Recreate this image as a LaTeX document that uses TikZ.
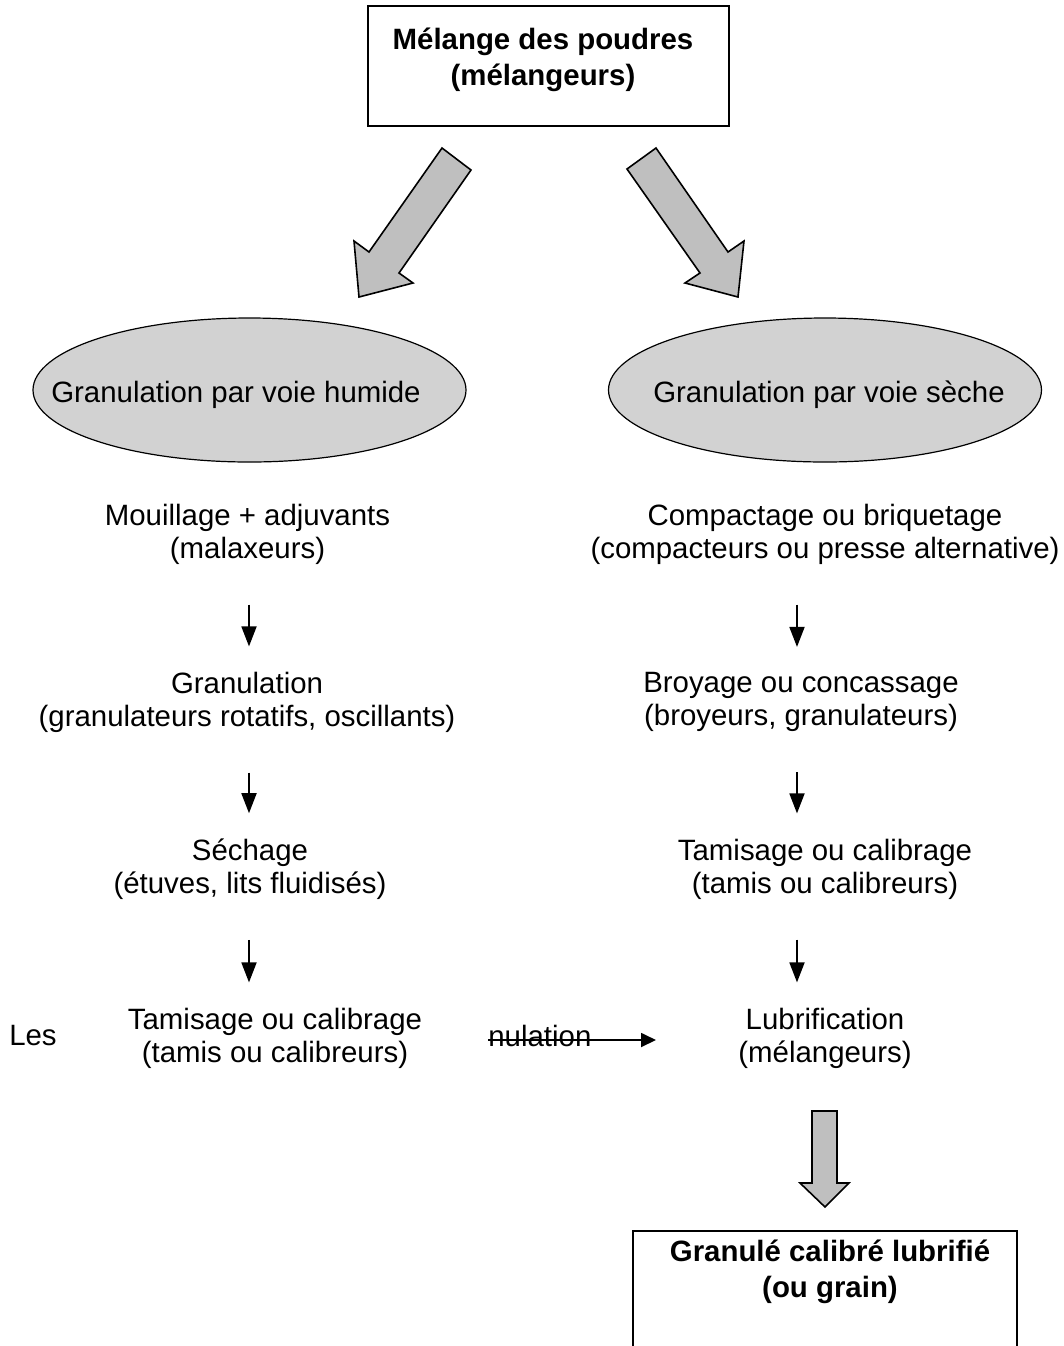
\documentclass[tikz,border=0pt]{standalone}
\usepackage{fontspec}
\setmainfont{Liberation Sans}
\usetikzlibrary{arrows.meta,shapes.geometric}
\tikzset{
  % plain text of a step (two lines)
  steptxt/.style  = {font=\fontsize{14.7}{16.5}\selectfont, align=center, inner sep=0pt},
  % bold text of the start and end boxes
  boxtxt/.style   = {font=\bfseries\fontsize{14.7}{18}\selectfont, align=center, inner sep=0pt},
  % framed box, no fill
  boxed/.style    = {rectangle, draw=black, line width=1pt, inner sep=0pt},
  % grey ellipse for each way of granulating
  route/.style    = {ellipse, draw=black, fill=gray!35, line width=0.6pt, inner sep=0pt,
                     minimum width=216.5pt, minimum height=72pt},
  % fat grey block arrow
  fatarrow/.style = {draw=black, fill=gray!50, line width=0.8pt, line join=miter},
  % thin arrow between two steps
  stepline/.style = {line width=0.9pt, -{Triangle[length=10pt,width=7.5pt]},
                     shorten <=20pt, shorten >=12.5pt},
  % thin arrow across the struck word
  skipline/.style = {line width=0.9pt, -{Triangle[length=7.5pt,width=7pt]}},
}

\begin{document}
\begin{tikzpicture}[x=0.5pt,y=-0.5pt]
  \useasboundingbox (0,0) rectangle (1064,1346);
  \clip (0,0) rectangle (1064,1346);

  % start: mixing the powders
  \node[boxed, minimum width=180.5pt, minimum height=60pt] (mix) at (548.5,66) {};
  \node[boxtxt] (mixlbl) at (543,60) {Mélange des poudres\\(mélangeurs)};

  % split into the two ways
  \draw[fatarrow] (442,148) -- (471,170) -- (399,273) -- (413,283) -- (359,297)
    -- (354,241) -- (369,252) -- cycle;
  \draw[fatarrow] (627,169) -- (656,148) -- (728,252) -- (744,241) -- (738,297)
    -- (685,283) -- (700,273) -- cycle;

  \node[route] (wet) at (249.5,390) {};
  \node[steptxt] (wetlbl) at (236,395) {Granulation par voie humide};
  \node[route] (dry) at (825,390) {};
  \node[steptxt] (drylbl) at (829,395) {Granulation par voie sèche};

  % wet way
  \node[steptxt] (wet1) at (247.5,534) {Mouillage + adjuvants\\(malaxeurs)};
  \node[steptxt] (wet2) at (247,702) {Granulation\\(granulateurs rotatifs, oscillants)};
  \node[steptxt] (wet3) at (250,869) {Séchage\\(étuves, lits fluidisés)};
  \node[steptxt] (wet4) at (275,1038) {Tamisage ou calibrage\\(tamis ou calibreurs)};

  % dry way
  \node[steptxt] (dry1) at (825,534) {Compactage ou briquetage\\(compacteurs ou presse alternative)};
  \node[steptxt] (dry2) at (801,702) {Broyage ou concassage\\(broyeurs, granulateurs)};
  \node[steptxt] (dry3) at (825,869) {Tamisage ou calibrage\\(tamis ou calibreurs)};
  \node[steptxt] (dry4) at (825,1038) {Lubrification\\(mélangeurs)};

  \coordinate (lx) at (249,0);
  \coordinate (rx) at (797,0);
  \foreach \a/\b in {wet1/wet2, wet2/wet3, wet3/wet4}
    \draw[stepline] (lx |- \a.south) -- (lx |- \b.north);
  \foreach \a/\b in {dry1/dry2, dry2/dry3, dry3/dry4}
    \draw[stepline] (rx |- \a.south) -- (rx |- \b.north);

  % leftover words and the link to lubrification
  \node[steptxt] (les) at (33,1036) {Les};
  \node[steptxt, anchor=base west] (nul) at (488,1046) {nulation};
  \coordinate (cut) at ([yshift=3pt]nul.base west);
  \coordinate (hend) at (656,0);
  \draw[skipline] (cut) -- (cut -| hend);

  % end: the lubricated grain
  \draw[fatarrow] (812,1111) -- (837,1111) -- (837,1183) -- (849,1183) -- (825,1207)
    -- (800,1183) -- (812,1183) -- cycle;
  \node[boxed, minimum width=192pt, minimum height=90pt] (grain) at (825,1321) {};
  \node[boxtxt] (grainlbl) at (830,1272) {Granulé calibré lubrifié\\(ou grain)};
\end{tikzpicture}
\end{document}
